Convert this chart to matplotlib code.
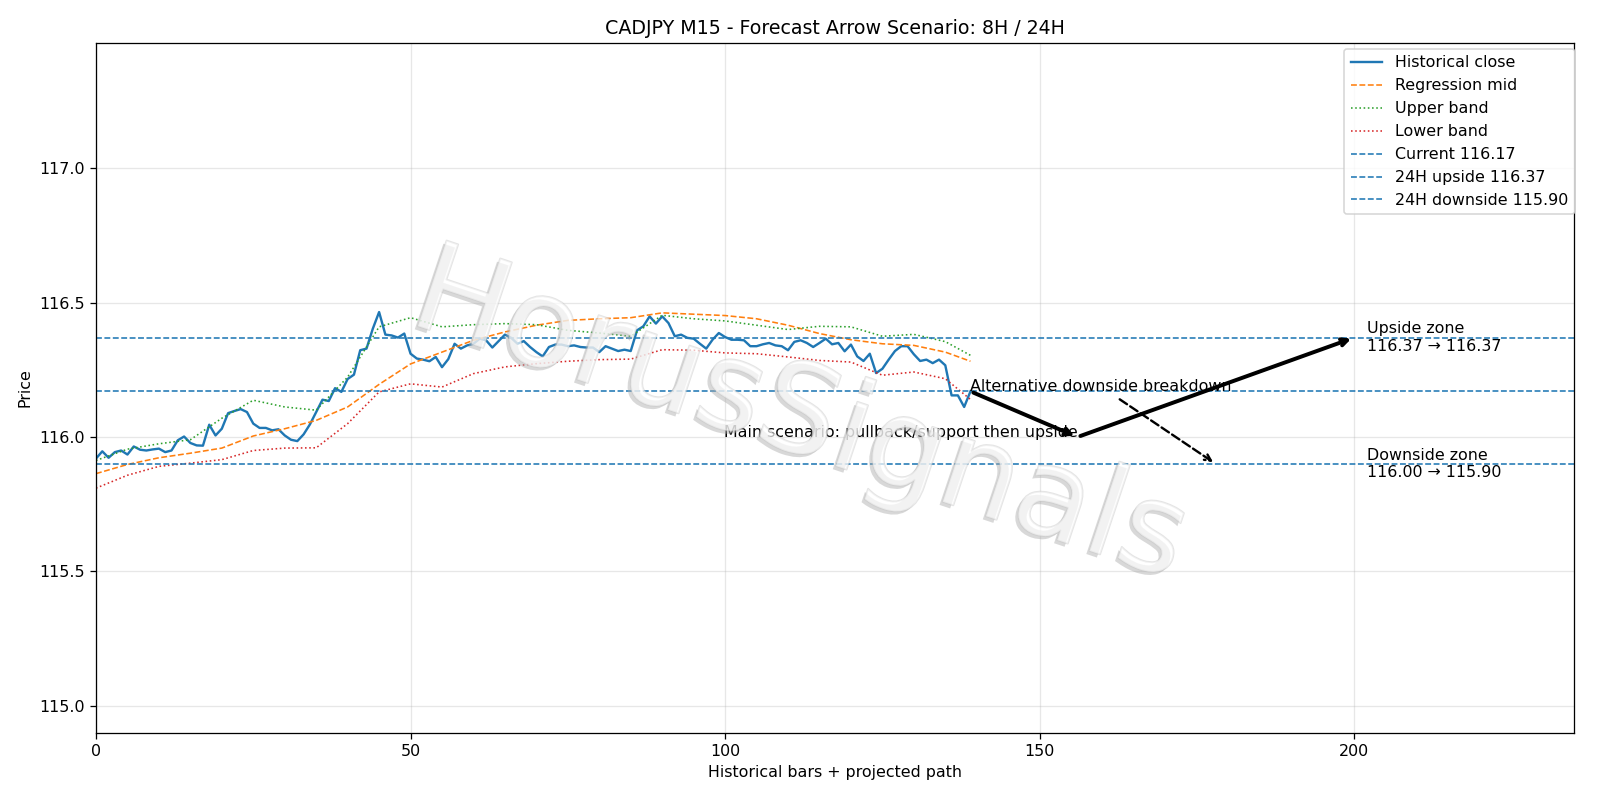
import matplotlib
matplotlib.use('Agg')
import matplotlib.pyplot as plt
import matplotlib.patheffects as pe
import numpy as np

# historical closes, one per bar (0..139)
close = [115.920, 115.947, 115.923, 115.944, 115.950, 115.935, 115.965, 115.953, 115.950, 115.954,
         115.957, 115.944, 115.950, 115.988, 116.002, 115.978, 115.969, 115.968, 116.046, 116.006,
         116.031, 116.089, 116.097, 116.104, 116.093, 116.050, 116.034, 116.034, 116.025, 116.029,
         116.006, 115.990, 115.985, 116.010, 116.047, 116.093, 116.139, 116.134, 116.182, 116.168,
         116.216, 116.232, 116.323, 116.329, 116.403, 116.465, 116.381, 116.378, 116.370, 116.385,
         116.310, 116.292, 116.288, 116.282, 116.298, 116.260, 116.290, 116.347, 116.329, 116.341,
         116.347, 116.366, 116.360, 116.333, 116.357, 116.381, 116.369, 116.347, 116.357, 116.335,
         116.316, 116.300, 116.335, 116.344, 116.344, 116.338, 116.341, 116.335, 116.333, 116.333,
         116.316, 116.338, 116.329, 116.320, 116.325, 116.320, 116.397, 116.412, 116.449, 116.422,
         116.449, 116.424, 116.375, 116.381, 116.369, 116.366, 116.347, 116.329, 116.362, 116.387,
         116.372, 116.362, 116.362, 116.360, 116.338, 116.338, 116.345, 116.350, 116.341, 116.338,
         116.323, 116.354, 116.360, 116.350, 116.335, 116.350, 116.366, 116.345, 116.350, 116.319,
         116.344, 116.300, 116.283, 116.310, 116.238, 116.254, 116.288, 116.320, 116.338, 116.338,
         116.308, 116.283, 116.288, 116.275, 116.288, 116.267, 116.155, 116.155, 116.112, 116.170]

# regression channel, read every 5 bars
band_x = [0, 5, 10, 15, 20, 25, 30, 35, 40, 45, 50, 55, 60, 65, 70, 75, 80, 85, 90, 95,
          100, 105, 110, 115, 120, 125, 130, 135, 139]
mid = [115.864, 115.898, 115.923, 115.940, 115.959, 116.004, 116.031, 116.062, 116.112, 116.196,
       116.272, 116.316, 116.360, 116.391, 116.416, 116.434, 116.440, 116.444, 116.462, 116.457,
       116.452, 116.440, 116.416, 116.385, 116.362, 116.347, 116.341, 116.316, 116.282]
upper = [115.913, 115.955, 115.975, 115.990, 116.070, 116.137, 116.112, 116.100, 116.223, 116.410,
         116.444, 116.410, 116.418, 116.422, 116.418, 116.397, 116.387, 116.375, 116.453, 116.440,
         116.432, 116.416, 116.400, 116.412, 116.410, 116.375, 116.382, 116.355, 116.304]
lower = [115.810, 115.858, 115.891, 115.903, 115.916, 115.950, 115.959, 115.960, 116.050, 116.168,
         116.198, 116.186, 116.236, 116.261, 116.273, 116.282, 116.288, 116.290, 116.325, 116.323,
         116.313, 116.310, 116.298, 116.285, 116.279, 116.230, 116.242, 116.217, 116.140]

current = 116.17
up_level = 116.37
down_level = 115.90
down_zone = 116.00

# projected path: now -> pullback -> target
path_x = [139, 156, 200]
path_y = [current, down_zone, up_level]
alt_x = 178

fig, ax = plt.subplots(figsize=(14, 7), dpi=1600 / 14)
fig.subplots_adjust(left=0.06, right=0.984, top=0.946, bottom=0.084)

ax.plot(np.arange(len(close)), close, color='C0', linewidth=1.5, label='Historical close')
ax.plot(band_x, mid, '--', color='C1', linewidth=1, label='Regression mid')
ax.plot(band_x, upper, ':', color='C2', linewidth=1, label='Upper band')
ax.plot(band_x, lower, ':', color='C3', linewidth=1, label='Lower band')
ax.axhline(current, linestyle='--', color='C0', linewidth=1, label=f'Current {current:.2f}')
ax.axhline(up_level, linestyle='--', color='C0', linewidth=1, label=f'24H upside {up_level:.2f}')
ax.axhline(down_level, linestyle='--', color='C0', linewidth=1, label=f'24H downside {down_level:.2f}')

# main scenario arrows
ax.annotate('', xy=(path_x[1], path_y[1]), xytext=(path_x[0], path_y[0]),
            arrowprops=dict(arrowstyle='->', lw=2.5, color='black'))
ax.annotate('', xy=(path_x[2], path_y[2]), xytext=(path_x[1], path_y[1]),
            arrowprops=dict(arrowstyle='->', lw=2.5, color='black'))
ax.text(path_x[1], path_y[1], 'Main scenario: pullback/support then upside', ha='right', fontsize=10)

# alternative scenario
ax.annotate('Alternative downside breakdown', xy=(alt_x, down_level), xytext=(path_x[0], current),
            fontsize=10,
            arrowprops=dict(arrowstyle='->', lw=1.5, linestyle='--', color='black'))

ax.text(202, up_level, f'Upside zone\n{up_level:.2f} \u2192 {up_level:.2f}', va='center', fontsize=10)
ax.text(202, down_level, f'Downside zone\n{down_zone:.2f} \u2192 {down_level:.2f}', va='center', fontsize=10)

ax.set_xlim(0, 235)
ax.set_ylim(114.9, 117.465)
ax.set_title('CADJPY M15 - Forecast Arrow Scenario: 8H / 24H')
ax.set_xlabel('Historical bars + projected path')
ax.set_ylabel('Price')
ax.grid(alpha=0.3)
ax.legend(loc='upper right', bbox_to_anchor=(1.0055, 1.003))

# watermark
fig.text(0.5, 0.478, 'HorusSignals', fontsize=78, rotation=-18.5, ha='center', va='center',
         color='white', alpha=0.45, zorder=10,
         path_effects=[pe.SimplePatchShadow(offset=(-2, -2), shadow_rgbFace='#aaaaaa', alpha=0.45),
                       pe.Stroke(linewidth=1.2, foreground='#c4c4c4'), pe.Normal()])

fig.savefig('out.png')
